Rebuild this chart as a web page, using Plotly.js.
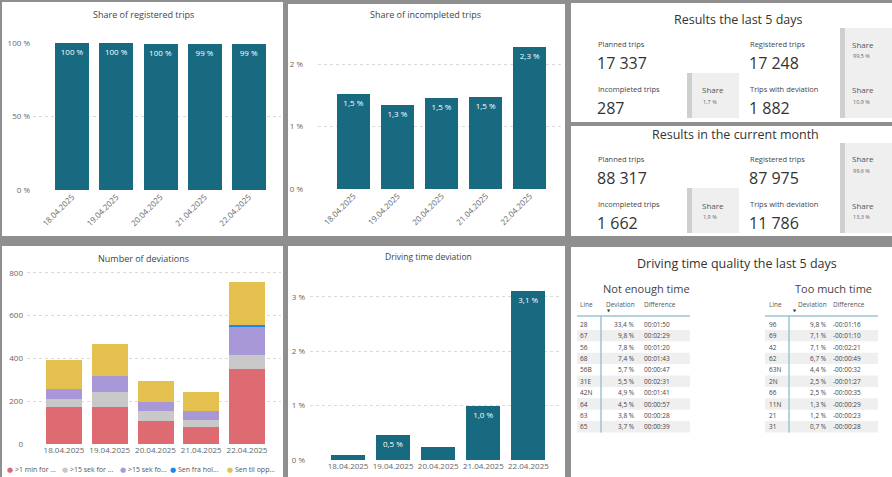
<!DOCTYPE html>
<html>
<head>
<meta charset="utf-8">
<script src="https://cdn.plot.ly/plotly-3.0.1.min.js"></script>
<style>
html,body{margin:0;padding:0;background:#8f8f8f;}
#chart{width:892px;height:477px;}
</style>
</head>
<body>
<div id="chart"></div>
<script>
// ---------- DATA ----------
const dates = ['18.04.2025', '19.04.2025', '20.04.2025', '21.04.2025', '22.04.2025'];
const registeredShare = [99.8, 99.7, 99.6, 99.4, 99.1];
const incompletedShare = [1.52, 1.34, 1.46, 1.48, 2.28];
const drivingTimeDeviation = [0.09, 0.46, 0.24, 1.0, 3.11];

const deviationNames = ['>1 min for ...', '>15 sek for ...', '>15 sek fo...', 'Sen fra hol...', 'Sen til opp...'];
const devOneMinEarly = [172, 175, 109, 81, 350];
const devFifteenSecA = [40, 66, 47, 31, 64];
const devFifteenSecB = [46, 75, 41, 40, 133];
const devLateFromStop = [0, 0, 0, 0, 9];
const devLateToStop = [136, 153, 98, 90, 200];

const kpiLabels = ['Planned trips', 'Registered trips', 'Incompleted trips', 'Trips with deviation'];
const kpiLast5Days = [17337, 17248, 287, 1882];
const kpiLast5DaysShare = [99.5, 1.7, 10.9];   // registered, incompleted, deviation
const kpiMonth = [88317, 87975, 1662, 11786];
const kpiMonthShare = [99.6, 1.9, 13.3];

const lowLines = ['28', '67', '56', '68', '56B', '31E', '42N', '64', '63', '65'];
const lowDeviation = [33.4, 9.8, 7.8, 7.4, 5.7, 5.5, 4.9, 4.5, 3.8, 3.7];
const lowDifference = ['00:01:50', '00:02:29', '00:01:20', '00:01:43', '00:00:47', '00:02:31', '00:01:41', '00:00:57', '00:00:28', '00:00:39'];
const highLines = ['96', '69', '42', '62', '63N', '2N', '66', '11N', '21', '31'];
const highDeviation = [9.8, 7.1, 7.1, 6.7, 4.4, 2.5, 2.5, 1.3, 1.2, 0.7];
const highDifference = ['-00:01:16', '-00:01:10', '-00:02:21', '-00:00:49', '-00:00:32', '-00:01:27', '-00:00:35', '-00:00:29', '-00:00:23', '-00:00:28'];

// ---------- STYLE ----------
const W = 892, H = 477;
const FONT = 'Open Sans, DejaVu Sans, sans-serif';
const TEAL = '#186a81';
const devColors = ['#dd6b71', '#c8c8c8', '#a898d8', '#1a86f0', '#e4c04e'];
const px = x => x / W;
const py = y => 1 - y / H;
const fmtInt = n => String(n).replace(/\B(?=(\d{3})+(?!\d))/g, ' ');
const fmtPct = (v, d) => v.toFixed(d).replace('.', ',') + ' %';

const annotations = [];
const shapes = [];
function ann(x, y, text, size, color, xanchor, extra) {
  annotations.push(Object.assign({
    x: px(x), y: py(y), xref: 'paper', yref: 'paper', text: text, showarrow: false,
    xanchor: xanchor || 'left', yanchor: 'middle',
    font: {family: FONT, size: size, color: color}
  }, extra || {}));
}
function rect(x0, y0, x1, y1, fill, extra) {
  shapes.push(Object.assign({
    type: 'rect', xref: 'paper', yref: 'paper', layer: 'below',
    x0: px(x0), x1: px(x1), y0: py(y1), y1: py(y0),
    fillcolor: fill, line: {width: 0}
  }, extra || {}));
}
function line(x0, y0, x1, y1, color, width) {
  shapes.push({type: 'line', xref: 'paper', yref: 'paper', layer: 'above',
    x0: px(x0), x1: px(x1), y0: py(y0), y1: py(y1), line: {color: color, width: width}});
}

// panels
rect(2, 2, 283, 236, '#ffffff');
rect(288, 4, 565, 236, '#ffffff');
rect(571, 3, 892, 122, '#ffffff');
rect(571, 126, 892, 236, '#ffffff');
rect(2, 246, 283, 477, '#ffffff');
rect(288, 246, 565, 477, '#ffffff');
rect(571, 247, 892, 477, '#ffffff');

// chart titles
ann(143, 15, 'Share of registered trips', 9, '#444', 'center');
ann(425, 15, 'Share of incompleted trips', 9, '#444', 'center');
ann(143, 258, 'Number of deviations', 9, '#444', 'center');
ann(428, 256, 'Driving time deviation', 8.5, '#444', 'center');

// ---------- KPI cards ----------
function kpiCard(top, title, titleX, vals, shares) {
  ann(titleX, top + 17, title, 12.5, '#333', 'center');
  const rowLabY = [top + 41, top + 86];
  const rowNumY = [top + 60, top + 105];
  const colX = [596, 748];
  for (let i = 0; i < 4; i++) {
    const r = Math.floor(i / 2), c = i % 2;
    ann(colX[c], rowLabY[r], kpiLabels[i], 7.5, '#444', 'left');
    ann(colX[c] - 1, rowNumY[r], fmtInt(vals[i]), 16, '#333', 'left');
  }
  // share boxes
  rect(840, top + 25, 845, top + 115, '#cfcfcf');
  rect(845, top + 25, 892, top + 115, '#efefef');
  rect(687, top + 70, 692, top + 115, '#cfcfcf');
  rect(692, top + 70, 739, top + 115, '#efefef');
  ann(850, top + 41, 'Share', 8, '#555', 'left');
  ann(851, top + 53, fmtPct(shares[0], 1), 5.5, '#666', 'left');
  ann(700, top + 87, 'Share', 8, '#555', 'left');
  ann(701, top + 99, fmtPct(shares[1], 1), 5.5, '#666', 'left');
  ann(850, top + 87, 'Share', 8, '#555', 'left');
  ann(851, top + 99, fmtPct(shares[2], 1), 5.5, '#666', 'left');
}
kpiCard(3, 'Results the last 5 days', 738, kpiLast5Days, kpiLast5DaysShare);
kpiCard(118, 'Results in the current month', 735, kpiMonth, kpiMonthShare);

// ---------- Driving time quality tables ----------
ann(737, 263, 'Driving time quality the last 5 days', 12.5, '#333', 'center');
function table(cfg, lines, devs, diffs) {
  ann(cfg.center, 288, cfg.title, 11, '#444', 'center');
  ann(cfg.lineX, 304, 'Line', 6.5, '#555', 'left');
  ann(cfg.devR, 304, 'Deviation', 6.5, '#555', 'right');
  ann(cfg.diffX, 304, 'Difference', 6.5, '#555', 'left');
  ann(cfg.arrowX, 310, '▼', 4, '#333', 'left');
  const rowTop = 318.5, rowH = 11.4;
  for (let i = 0; i < lines.length; i++) {
    const yc = rowTop + rowH * i + rowH / 2;
    if (i % 2 === 1) rect(cfg.x0, rowTop + rowH * i, cfg.x1, rowTop + rowH * (i + 1), '#efefef');
    ann(cfg.lineX, yc, lines[i], 6.5, '#444', 'left');
    ann(cfg.devR, yc, fmtPct(devs[i], 1), 6.5, '#444', 'right');
    ann(cfg.diffX, yc, diffs[i], 6.5, '#444', 'left');
  }
  line(cfg.x0, 316, cfg.x1, 316, '#b5d3df', 2);
  line(cfg.vX, 316, cfg.vX, rowTop + rowH * lines.length, '#9cc3d2', 1.5);
}
table({title: 'Not enough time', center: 646, x0: 577, x1: 690, lineX: 578, devR: 637, diffX: 642, arrowX: 605, vX: 601},
  lowLines, lowDeviation, lowDifference);
table({title: 'Too much time', center: 833, x0: 765, x1: 878, lineX: 767, devR: 829, diffX: 831, arrowX: 791, vX: 789},
  highLines, highDeviation, highDifference);

// legend for deviation chart
const legX = [5, 60, 118, 168, 225];
for (let i = 0; i < deviationNames.length; i++) {
  ann(legX[i], 469, '<span style="color:' + devColors[i] + '">●</span> ' + deviationNames[i], 7, '#555', 'left');
}

// ---------- TRACES ----------
const barText = {family: FONT, size: 8, color: '#ffffff'};
const traces = [
  {type: 'bar', x: dates, y: registeredShare, xaxis: 'x', yaxis: 'y', width: 0.77,
   marker: {color: TEAL}, text: registeredShare.map(v => fmtPct(v, 0)), textposition: 'inside',
   insidetextanchor: 'end', textangle: 0, textfont: barText, showlegend: false, hoverinfo: 'skip'},
  {type: 'bar', x: dates, y: incompletedShare, xaxis: 'x2', yaxis: 'y2', width: 0.75,
   marker: {color: TEAL}, text: incompletedShare.map(v => fmtPct(v, 1)), textposition: 'inside',
   insidetextanchor: 'end', textangle: 0, textfont: barText, showlegend: false, hoverinfo: 'skip'},
  {type: 'bar', x: dates, y: drivingTimeDeviation, xaxis: 'x4', yaxis: 'y4', width: 0.754,
   marker: {color: TEAL}, text: drivingTimeDeviation.map(v => v >= 0.4 ? fmtPct(v, 1) : ''), textposition: 'inside',
   insidetextanchor: 'end', textangle: 0, textfont: barText, showlegend: false, hoverinfo: 'skip'}
];
const devSeries = [devOneMinEarly, devFifteenSecA, devFifteenSecB, devLateFromStop, devLateToStop];
devSeries.forEach((s, i) => traces.push({
  type: 'bar', name: deviationNames[i], x: dates, y: s, xaxis: 'x3', yaxis: 'y3', width: 0.787,
  marker: {color: devColors[i], line: {width: 0}}, showlegend: false, hoverinfo: 'skip'
}));

// ---------- AXES ----------
const tickFont = {family: FONT, size: 8, color: '#666'};
function xAx(d0, d1, r0, r1, anchor, angle) {
  return {domain: [px(d0), px(d1)], range: [r0, r1], type: 'category', anchor: anchor,
    tickangle: angle, tickfont: tickFont, showgrid: false, showline: false, zeroline: false,
    ticks: '', fixedrange: true, automargin: false};
}
function yAx(top, bottom, range, dtick, suffix, anchor, standoff) {
  return {domain: [py(bottom), py(top)], range: range, dtick: dtick, tick0: 0, ticksuffix: suffix,
    anchor: anchor, tickfont: tickFont, showgrid: true, gridcolor: '#dadada', griddash: 'dot', gridwidth: 1,
    zeroline: false, showline: false, ticks: '', fixedrange: true, automargin: false,
    ticklabelstandoff: standoff};
}

const layout = {
  width: W, height: H, margin: {l: 0, r: 0, t: 0, b: 0},
  paper_bgcolor: '#8f8f8f', plot_bgcolor: 'rgba(0,0,0,0)',
  font: {family: FONT}, separators: ', ', barmode: 'stack', showlegend: false,
  xaxis: xAx(33, 281, -0.886, 4.727, 'y', -45),
  yaxis: yAx(43, 190, [0, 100], 50, ' %', 'x', 2),
  xaxis2: xAx(318, 562, -0.805, 4.728, 'y2', -45),
  yaxis2: yAx(40, 189, [0, 2.384], 1, ' %', 'x2', 14),
  xaxis3: xAx(27, 281, -0.809, 4.743, 'y3', 0),
  yaxis3: yAx(265, 444, [0, 837], 200, '', 'x3', 3),
  xaxis4: xAx(310, 562, -0.843, 4.745, 'y4', 0),
  yaxis4: yAx(285, 460, [0, 3.22], 1, ' %', 'x4', 4),
  shapes: shapes,
  annotations: annotations
};

Plotly.newPlot('chart', traces, layout, {displayModeBar: false, staticPlot: true});
</script>
</body>
</html>
